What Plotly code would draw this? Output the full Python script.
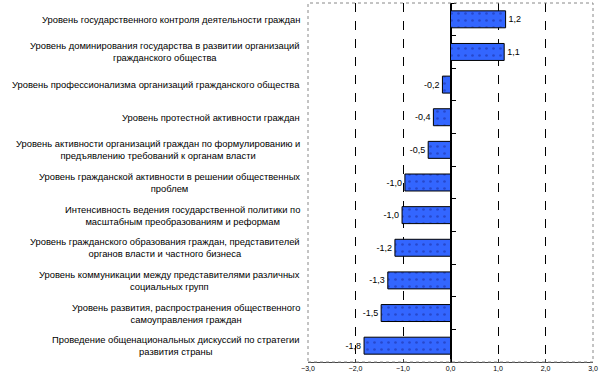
import plotly.graph_objects as go

categories = [
    "Уровень государственного контроля деятельности граждан",
    "Уровень доминирования государства в развитии организаций<br>гражданского общества",
    "Уровень профессионализма организаций гражданского общества",
    "Уровень протестной активности граждан",
    "Уровень активности организаций граждан по формулированию и<br>предъявлению требований к органам власти",
    "Уровень гражданской активности в решении общественных<br>проблем",
    "Интенсивность ведения государственной политики по<br>масштабным преобразованиям и реформам",
    "Уровень гражданского образования граждан, представителей<br>органов власти и частного бизнеса",
    "Уровень коммуникации между представителями различных<br>социальных групп",
    "Уровень развития, распространения общественного<br>самоуправления граждан",
    "Проведение общенациональных дискуссий по стратегии<br>развития страны",
]
values = [1.16, 1.13, -0.17, -0.36, -0.47, -0.96, -1.02, -1.17, -1.32, -1.46, -1.82]
x_ticks = [-3, -2, -1, 0, 1, 2, 3]
x_range = [-3, 3]

FONT = "Liberation Sans, Arial, sans-serif"

fig = go.Figure()
fig.add_trace(go.Bar(
    x=values, y=categories, orientation="h",
    marker=dict(color="#3366FF", line=dict(color="black", width=1),
                pattern=dict(shape=".", fgcolor="#1a2a9a", size=7, solidity=0.12)),
    texttemplate="%{x:.1f}", textposition="outside",
    textfont=dict(family=FONT, size=9, color="black"),
    cliponaxis=False, hoverinfo="skip",
))

for c in categories:
    fig.add_annotation(text=c, x=0, xref="paper", y=c, yref="y",
                       xanchor="right", yanchor="middle", align="center",
                       xshift=-6, showarrow=False,
                       font=dict(family=FONT, size=9.4, color="black"))

zero_pos = (0 - x_range[0]) / (x_range[1] - x_range[0])

fig.update_layout(
    width=604, height=384,
    margin=dict(l=308, r=11, t=3, b=22),
    paper_bgcolor="white", plot_bgcolor="white",
    showlegend=False, bargap=0.48,
    separators=", ",
    xaxis=dict(range=x_range, tickvals=x_ticks, tickformat=".1f",
               showgrid=True, gridcolor="black", gridwidth=1, griddash="dash",
               zeroline=True, zerolinecolor="black", zerolinewidth=1.5,
               showline=True, linecolor="#444", linewidth=1,
               ticks="inside", ticklen=3, tickcolor="#444",
               tickfont=dict(family=FONT, size=7, color="black")),
    yaxis=dict(autorange="reversed", anchor="free", position=zero_pos, side="right",
               showticklabels=False, showgrid=False, showline=False,
               ticks="outside", tickson="boundaries", ticklen=4, tickcolor="black"),
    shapes=[dict(type="rect", xref="paper", yref="paper", x0=0, x1=1, y0=0, y1=1,
                 line=dict(color="#888", width=1, dash="dot"), layer="above")],
)

fig.write_html("out.html", config={"displayModeBar": False},
               post_script="document.body.style.margin='0';")
